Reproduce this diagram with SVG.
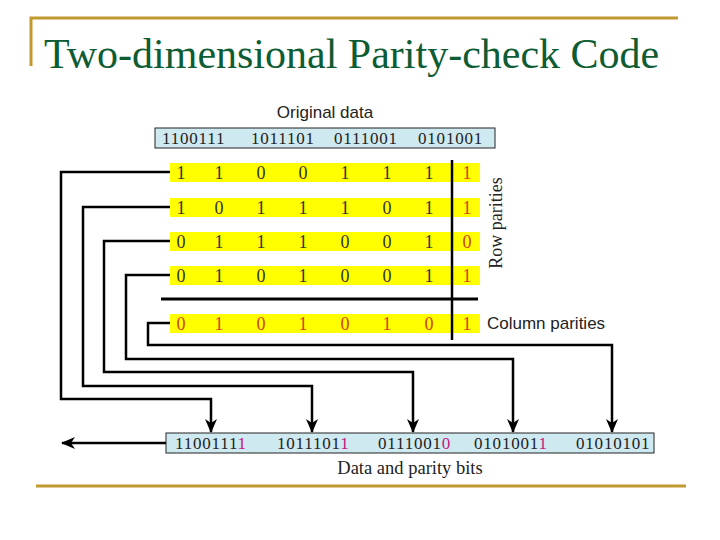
<svg xmlns="http://www.w3.org/2000/svg" width="720" height="540" viewBox="0 0 720 540">
<defs>
<marker id="ah" markerWidth="14" markerHeight="12" refX="13" refY="6" orient="auto" markerUnits="userSpaceOnUse">
<path d="M0,0 L14,6 L0,12 L4,6 Z" fill="#000"/>
</marker>
<style>
.gold{stroke:#c09a2e;stroke-width:3;fill:none}
.title{font-family:"Liberation Serif","Times New Roman",serif;font-size:42px;fill:#0d5c33}
.lbl{font-family:"Liberation Sans","DejaVu Sans",sans-serif;font-size:17px;fill:#222}
.ser{font-family:"Liberation Serif","Times New Roman",serif;fill:#222}
.dig{font-family:"Liberation Serif","Times New Roman",serif;font-size:18px;fill:#333;text-anchor:middle}
.par{fill:#d2401a}
.mag{fill:#c3177d}
.blue{fill:#cfe9f1;stroke:#222;stroke-width:1}
.yel{fill:#ffff00}
.wire{stroke:#000;stroke-width:2.5;fill:none}
.box{font-family:"Liberation Serif","Times New Roman",serif;font-size:17px;letter-spacing:0.8px;fill:#222}
</style>
</defs>
<rect width="720" height="540" fill="#fff"/>
<g id="frame">
<path class="gold" d="M31,66 V18 H678"/>
<line class="gold" x1="36" y1="486" x2="686" y2="486"/>
<text class="title" x="44" y="68">Two-dimensional Parity-check Code</text>
</g>
<g id="original">
<text class="lbl" x="325" y="118" text-anchor="middle">Original data</text>
<rect class="blue" x="155" y="128" width="340" height="20"/>
<text class="box" x="162" y="144">1100111</text>
<text class="box" x="251" y="144">1011101</text>
<text class="box" x="334" y="144">0111001</text>
<text class="box" x="418" y="144">0101001</text>
</g>
<g id="grid">
<rect class="yel" x="170" y="163" width="310" height="19"/>
<rect class="yel" x="170" y="198" width="310" height="19"/>
<rect class="yel" x="170" y="232" width="310" height="19"/>
<rect class="yel" x="170" y="266" width="310" height="19"/>
<rect class="yel" x="170" y="314" width="310" height="19"/>
<g class="dig">
<text x="181" y="179">1</text><text x="219" y="179">1</text><text x="261" y="179">0</text><text x="303" y="179">0</text><text x="345" y="179">1</text><text x="387" y="179">1</text><text x="429" y="179">1</text><text class="par" x="467" y="179">1</text>
<text x="181" y="214">1</text><text x="219" y="214">0</text><text x="261" y="214">1</text><text x="303" y="214">1</text><text x="345" y="214">1</text><text x="387" y="214">0</text><text x="429" y="214">1</text><text class="par" x="467" y="214">1</text>
<text x="181" y="248">0</text><text x="219" y="248">1</text><text x="261" y="248">1</text><text x="303" y="248">1</text><text x="345" y="248">0</text><text x="387" y="248">0</text><text x="429" y="248">1</text><text class="par" x="467" y="248">0</text>
<text x="181" y="282">0</text><text x="219" y="282">1</text><text x="261" y="282">0</text><text x="303" y="282">1</text><text x="345" y="282">0</text><text x="387" y="282">0</text><text x="429" y="282">1</text><text class="par" x="467" y="282">1</text>
<text class="par" x="181" y="330">0</text><text class="par" x="219" y="330">1</text><text class="par" x="261" y="330">0</text><text class="par" x="303" y="330">1</text><text class="par" x="345" y="330">0</text><text class="par" x="387" y="330">1</text><text class="par" x="429" y="330">0</text><text class="par" x="467" y="330">1</text>
</g>
<line x1="452" y1="160" x2="452" y2="340" stroke="#000" stroke-width="2.5"/>
<line x1="161" y1="299" x2="478" y2="299" stroke="#000" stroke-width="3"/>
<text class="ser" font-size="18" transform="translate(502,223) rotate(-90)" text-anchor="middle">Row parities</text>
<text class="lbl" x="487" y="329">Column parities</text>
</g>
<g id="connectors">
<path class="wire" d="M170,172 H61 V399 H211 V432" marker-end="url(#ah)"/>
<path class="wire" d="M170,207 H83 V386 H312 V432" marker-end="url(#ah)"/>
<path class="wire" d="M170,241 H104 V372 H413 V432" marker-end="url(#ah)"/>
<path class="wire" d="M170,275 H126 V359 H513 V432" marker-end="url(#ah)"/>
<path class="wire" d="M170,323 H148 V345 H612 V432" marker-end="url(#ah)"/>
<path class="wire" d="M166,443 H62" marker-end="url(#ah)"/>
</g>
<g id="result">
<rect class="blue" x="166" y="433" width="488" height="20"/>
<text class="box" x="175" y="449">1100111<tspan class="mag">1</tspan></text>
<text class="box" x="277" y="449">1011101<tspan class="mag">1</tspan></text>
<text class="box" x="378" y="449">0111001<tspan class="mag">0</tspan></text>
<text class="box" x="474" y="449">0101001<tspan class="mag">1</tspan></text>
<text class="box mag" x="576" y="449">01010101</text>
<text class="ser" font-size="18.5" x="410" y="474" text-anchor="middle">Data and parity bits</text>
</g>
</svg>
